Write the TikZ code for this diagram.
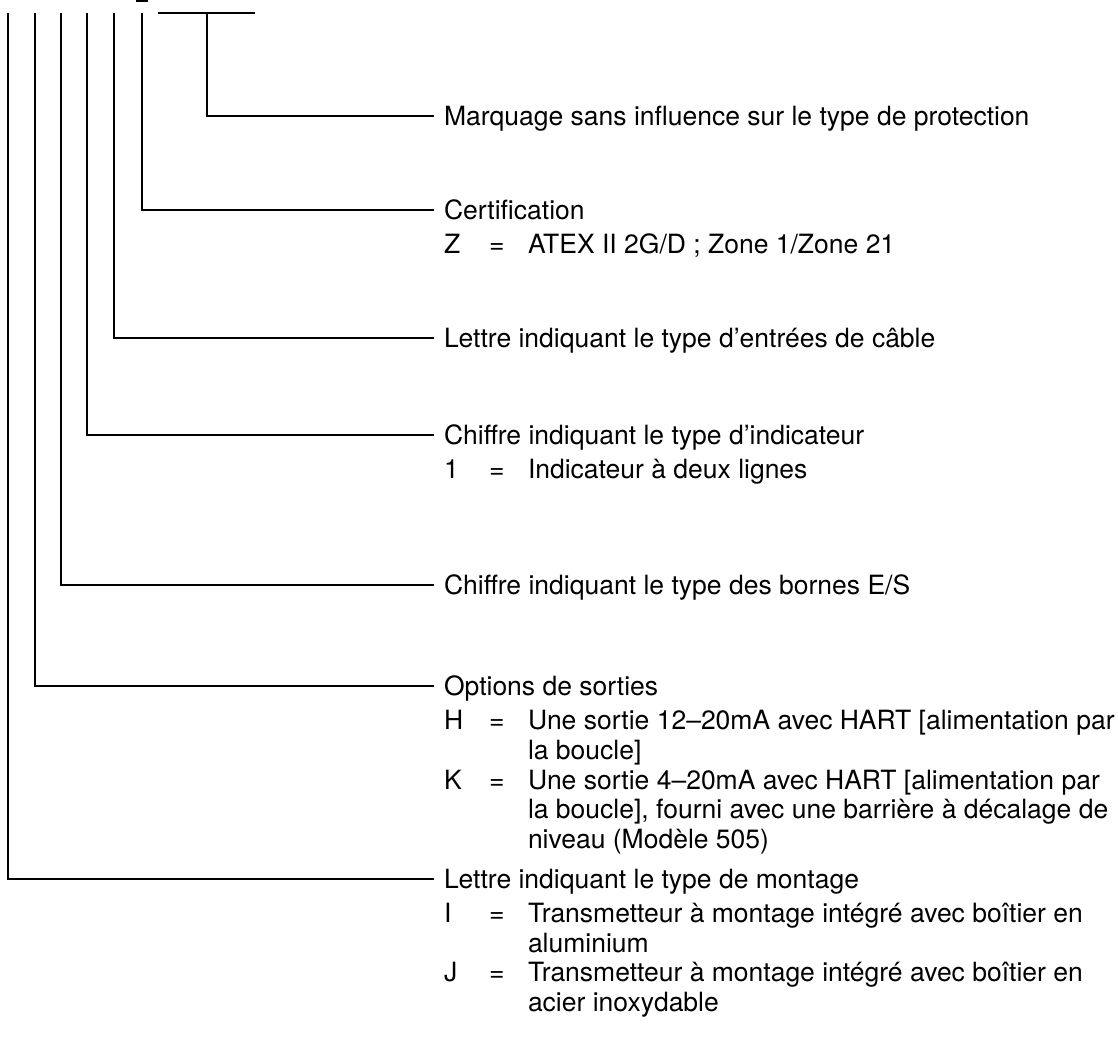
\documentclass[tikz,border=0pt]{standalone}
\usepackage{fontspec}
\setmainfont{TeX Gyre Heros}
\usetikzlibrary{positioning}

\begin{document}
\begin{tikzpicture}[x=1pt,y=-1pt,line width=2pt,
    head/.style={anchor=west,inner xsep=9pt,inner ysep=0pt,text height=19pt,text depth=0pt,
        font=\fontsize{26.5}{29.5}\selectfont},
    item/.style={anchor=base west,inner sep=0pt,align=left,
        font=\fontsize{26.5}{29.5}\selectfont}]
    \pgfmathsetmacro{\xa}{8}
    \pgfmathsetmacro{\xb}{35}
    \pgfmathsetmacro{\xc}{61}
    \pgfmathsetmacro{\xd}{87}
    \pgfmathsetmacro{\xe}{114}
    \pgfmathsetmacro{\xf}{142}
    \pgfmathsetmacro{\xg}{207}
    \pgfmathsetmacro{\top}{13}
    \pgfmathsetmacro{\xt}{434}
    \pgfmathsetmacro{\xk}{443}
    \pgfmathsetmacro{\xq}{488}
    \pgfmathsetmacro{\xv}{527}
    \pgfmathsetmacro{\ls}{29.5}
    \useasboundingbox (0,0) rectangle (1118,1047);

    % Draw the code positions
    \coordinate (ta) at (\xa,\top);
    \coordinate (tb) at (\xb,\top);
    \coordinate (tc) at (\xc,\top);
    \coordinate (td) at (\xd,\top);
    \coordinate (te) at (\xe,\top);
    \coordinate (tf) at (\xf,\top);
    \coordinate (tg) at (\xg,\top);
    \coordinate (ul) at (158,\top);
    \coordinate (ur) at (255,\top);
    \draw (ul) -- (ur);
    \draw (136,1) -- (148,1);

    % Draw the headings
    \node [head] (marq) at (\xt,116) {Marquage sans influence sur le type de protection};
    \node [head] (cert) at (\xt,210) {Certification};
    \node [head] (cable) at (\xt,338) {Lettre indiquant le type d’entrées de câble};
    \node [head] (ind) at (\xt,435) {Chiffre indiquant le type d’indicateur};
    \node [head] (born) at (\xt,585) {Chiffre indiquant le type des bornes E/S};
    \node [head] (sort) at (\xt,686) {Options de sorties};
    \node [head] (mont) at (\xt,879) {Lettre indiquant le type de montage};

    \draw (tg) |- (marq.west);
    \draw (tf) |- (cert.west);
    \draw (te) |- (cable.west);
    \draw (td) |- (ind.west);
    \draw (tc) |- (born.west);
    \draw (tb) |- (sort.west);
    \draw (ta) |- (mont.west);

    % Draw the options (base = last line)
    \node [item] (kz) at (\xk,253.5) {Z};
    \node [item] (qz) at (\xq,253.5) {=};
    \node [item] (vz) at (\xv,253.5) {ATEX II 2G/D ; Zone 1/Zone 21};

    \node [item] (k1) at (\xk,478.5) {1};
    \node [item] (q1) at (\xq,478.5) {=};
    \node [item] (v1) at (\xv,478.5) {Indicateur à deux lignes};

    \node [item] (kh) at (\xk,729.5) {H};
    \node [item] (qh) at (\xq,729.5) {=};
    \node [item] (vh) at (\xv,729.5+\ls) {Une sortie 12–20mA avec HART [alimentation par\\la boucle]};
    \node [item] (kk) at (\xk,789) {K};
    \node [item] (qk) at (\xq,789) {=};
    \node [item] (vk) at (\xv,789+2*\ls) {Une sortie 4–20mA avec HART [alimentation par\\la boucle], fourni avec une barrière à décalage de\\niveau (Modèle 505)};

    \node [item] (ki) at (\xk,922.5) {I};
    \node [item] (qi) at (\xq,922.5) {=};
    \node [item] (vi) at (\xv,922.5+\ls) {Transmetteur à montage intégré avec boîtier en\\aluminium};
    \node [item] (kj) at (\xk,981.5) {J};
    \node [item] (qj) at (\xq,981.5) {=};
    \node [item] (vj) at (\xv,981.5+\ls) {Transmetteur à montage intégré avec boîtier en\\acier inoxydable};

\end{tikzpicture}
\end{document}
